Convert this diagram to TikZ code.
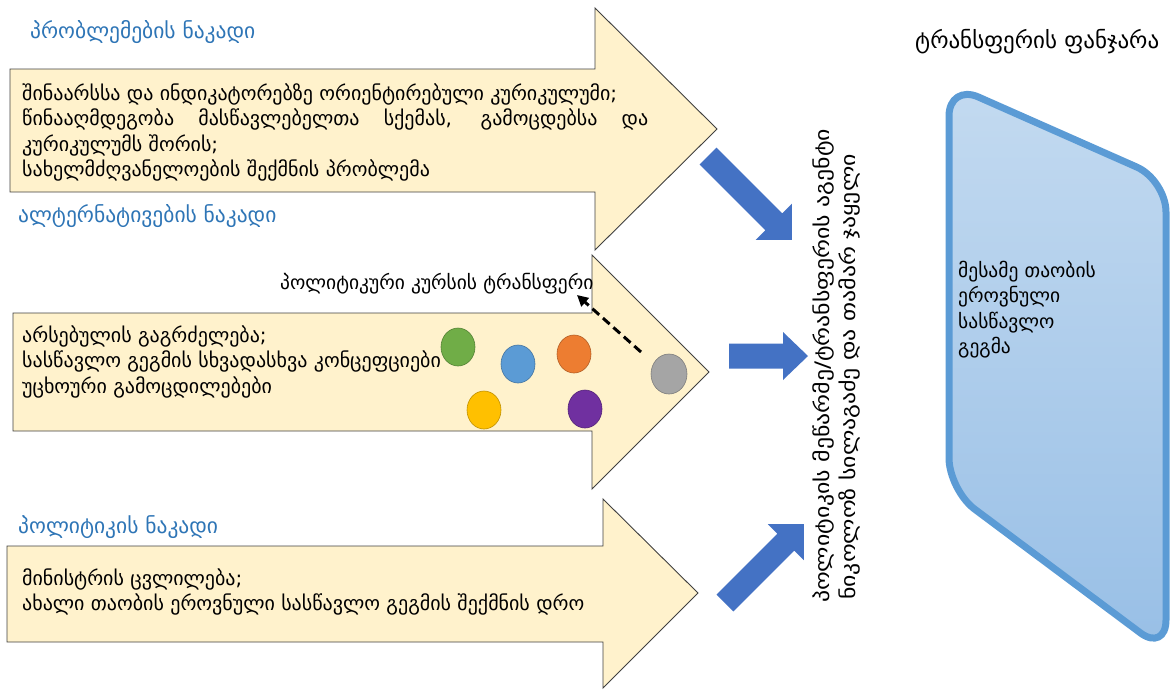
\documentclass[tikz,border=0pt]{standalone}
\usepackage{fontspec}
\setmainfont{DejaVu Sans}
\usetikzlibrary{arrows.meta,shapes.geometric}
\definecolor{arrowfill}{HTML}{FFF2CC}
\definecolor{arrowline}{HTML}{404040}
\definecolor{bluearr}{HTML}{4472C4}
\definecolor{headblue}{HTML}{2E75B6}
\definecolor{winfillA}{HTML}{C3DAF0}
\definecolor{winfillB}{HTML}{98BFE6}
\definecolor{winline}{HTML}{5B9BD5}
\definecolor{cgreen}{HTML}{70AD47}
\definecolor{cblue}{HTML}{5B9BD5}
\definecolor{corange}{HTML}{ED7D31}
\definecolor{cgray}{HTML}{A5A5A5}
\definecolor{cyellow}{HTML}{FFC000}
\definecolor{cpurple}{HTML}{7030A0}
\begin{document}
\begin{tikzpicture}[x=1pt,y=-1pt,
  streamarrow/.style={fill=arrowfill, draw=arrowline, line width=0.9pt, line join=miter},
  heading/.style={font=\fontsize{21.5}{24}\selectfont, text=headblue, anchor=base west, inner sep=0pt},
  body/.style={font=\fontsize{20}{25.5}\selectfont, align=left, anchor=base west, inner sep=0pt},
  dot/.style={ellipse, minimum width=34pt, minimum height=38pt, inner sep=0pt, fill=#1, draw=#1!75!black, line width=0.6pt},
  vtext/.style={font=\fontsize{20}{22}\selectfont, rotate=90, anchor=base west, inner sep=0pt}
]
\useasboundingbox (0,0) rectangle (1170,689);

% ---- stream arrows
\path[streamarrow] (10,69) -- (595,69) -- (595,8) -- (717,129) -- (595,250) -- (595,192) -- (10,192) -- cycle;
\path[streamarrow] (13,313) -- (592,313) -- (592,255) -- (709,372) -- (592,489) -- (592,431) -- (13,431) -- cycle;
\path[streamarrow] (7,546) -- (603,546) -- (603,499) -- (698,593) -- (603,688) -- (603,642) -- (7,642) -- cycle;

% ---- headings
\node[heading] (h1) at (30,38) {პრობლემების ნაკადი};
\node[heading] (h2) at (18,222) {ალტერნატივების ნაკადი};
\node[heading] (h3) at (18,533) {პოლიტიკის ნაკადი};

% ---- body texts (anchored at the baseline of the last line)
\node[body] (t1) at (22,176.5) {შინაარსსა და ინდიკატორებზე ორიენტირებული კურიკულუმი;\\
\makebox[626pt][s]{წინააღმდეგობა მასწავლებელთა სქემას, გამოცდებსა და}\\
კურიკულუმს შორის;\\
სახელმძღვანელოების შექმნის პრობლემა};
\node[body] (t2) at (22,393) {არსებულის გაგრძელება;\\
სასწავლო გეგმის სხვადასხვა კონცეფციები\\
უცხოური გამოცდილებები};
\node[body] (t3) at (22,610.5) {მინისტრის ცვლილება;\\
ახალი თაობის ეროვნული სასწავლო გეგმის შექმნის დრო};

% ---- circles
\node[dot=cgreen]  (c1) at (458,347) {};
\node[dot=cblue]   (c2) at (518,364) {};
\node[dot=corange] (c3) at (574,354) {};
\node[dot=cgray, minimum width=36pt, minimum height=40pt] (c4) at (669,374) {};
\node[dot=cyellow] (c5) at (484,410) {};
\node[dot=cpurple] (c6) at (585,409) {};

% ---- transfer label and dashed arrow
\node[font=\fontsize{19.5}{22}\selectfont, anchor=base west, inner sep=0pt] (lab) at (280,289) {პოლიტიკური კურსის ტრანსფერი};
\coordinate (dstart) at (641,352);
\coordinate (dend) at (577,295);
\draw[line width=3pt, dash pattern=on 9pt off 5pt, -{Triangle[length=11pt,width=11pt]}] (dstart) -- (dend);

% ---- blue arrows
\begin{scope}[shift={(708,156)}, rotate=-45]
  \fill[bluearr] (0,-12) -- (93,-12) -- (93,-25.5) -- (118.5,0) -- (93,25.5) -- (93,12) -- (0,12) -- cycle;
\end{scope}
\begin{scope}[shift={(729,356)}]
  \fill[bluearr] (0,-12.5) -- (54,-12.5) -- (54,-24) -- (79,0) -- (54,24) -- (54,12.5) -- (0,12.5) -- cycle;
\end{scope}
\begin{scope}[shift={(725,603)}, rotate=45]
  \fill[bluearr] (0,-12) -- (86,-12) -- (86,-25.5) -- (111.5,0) -- (86,25.5) -- (86,12) -- (0,12) -- cycle;
\end{scope}

% ---- vertical text
\node[vtext] (v1) at (829,603) {\scalebox{1.19}[1]{პოლიტიკის მეწარმე/ტრანსფერის აგენტი}};
\node[vtext] (v2) at (855,600) {\scalebox{1.19}[1]{ნიკოლოზ სილაგაძე და თამარ ჯაყელი}};

% ---- transfer window
\node[font=\fontsize{23}{26}\selectfont, anchor=base west, inner sep=0pt] (wt) at (915,48) {ტრანსფერის ფანჯარა};
\path[draw=winline, line width=7pt, rounded corners=32pt, top color=winfillA, bottom color=winfillB]
  (949,84) -- (1166,180) -- (1166,652) -- (949,490) -- cycle;
\node[font=\fontsize{19.5}{25.5}\selectfont, align=left, anchor=base west, inner sep=0pt] (wb) at (958,353.5) {მესამე თაობის\\ეროვნული\\სასწავლო\\გეგმა};
\end{tikzpicture}
\end{document}
